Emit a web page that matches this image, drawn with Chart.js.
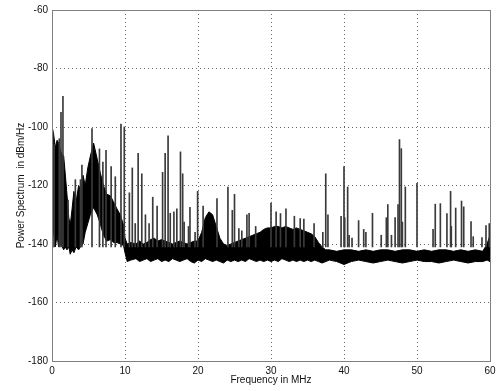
<!DOCTYPE html>
<html lang="en">
<head>
<meta charset="utf-8">
<style>
  html, body { margin: 0; padding: 0; background: #fff; }
  #wrap { width: 500px; height: 391px; }
</style>
</head>
<body>
<div id="wrap"><canvas id="myChart" width="500" height="391"></canvas></div>
<script src="https://cdn.jsdelivr.net/npm/chart.js"></script>
<script>
// spectrum envelope (MHz, dBm/Hz)
const envF = [
  0, 0.2, 0.45, 0.7, 0.9, 1.2, 1.6, 1.8, 2.05, 2.3,
  2.5, 2.75, 3.0, 3.3, 3.65, 4.0, 4.25, 4.55, 4.9, 5.25,
  5.7, 6.2, 6.6, 7.05, 7.5, 8.0, 8.4, 8.9, 9.35, 9.8,
  10.0, 10.3, 10.8, 11.5, 12, 12.5, 13, 13.5, 14, 14.5,
  15, 15.5, 16, 16.5, 17, 17.5, 18, 18.5, 19, 19.5,
  20, 20.5, 21, 21.5, 22, 22.5, 23, 23.5, 24, 24.5,
  25, 25.5, 26, 26.5, 27, 27.5, 28, 28.5, 29, 29.5,
  30, 30.5, 31, 31.5, 32, 32.5, 33, 33.5, 34, 34.5,
  35, 35.5, 36, 36.5, 37, 37.5, 38, 39, 40, 41,
  42, 43, 44, 45, 46, 47, 48, 49, 50, 51,
  52, 53, 54, 55, 56, 57, 58, 59, 59.6, 60
];
const envHi = [
  -101, -102, -107, -104.5, -105.5, -108.5, -110, -115.5, -123, -131,
  -133.5, -128, -122, -125.5, -120, -122, -116.5, -120, -114, -110,
  -105.5, -111, -115.5, -120, -123, -123.5, -125.5, -128, -130, -133.5,
  -138, -140, -139.5, -140, -139, -140, -139.5, -138.5, -138, -139,
  -138.5, -139, -139.5, -140, -139.5, -139, -139.5, -140, -139.5, -139,
  -139, -136, -131, -129, -130, -134, -138, -140, -140.5, -140,
  -139.5, -139, -138.5, -138, -137.5, -137, -136.5, -136, -135, -134.5,
  -134.5, -134, -134, -134.5, -134, -134.5, -135, -134.5, -135, -135.5,
  -136, -136.5, -137.5, -139.5, -141, -142, -142, -142.5, -142, -142,
  -142.5, -142, -142.5, -142, -142, -142.5, -142, -142, -142.5, -142,
  -142.5, -142, -142, -142.5, -142, -142.5, -142, -142.5, -140, -137
];
const envLo = [
  -139, -135, -141, -137, -141, -140, -142, -141, -142, -141,
  -143.5, -142, -143, -141, -142, -140.5, -140, -136, -133, -130,
  -127.5, -130, -133, -137, -139, -138.5, -139.5, -139.5, -140, -140.5,
  -143, -146, -145.5, -145, -146, -145.5, -145, -146, -145.5, -145,
  -146, -145.5, -146, -145, -145.5, -146, -145.5, -145, -146, -146.5,
  -145.5, -146, -145, -145.5, -146, -145.5, -146, -146.5, -145.5, -146,
  -145.5, -146, -145.5, -146, -145, -145.5, -146, -145.5, -146, -145.5,
  -146, -145.5, -146, -145, -145.5, -146, -145.5, -146, -145.5, -146,
  -145.5, -146, -145.5, -146, -146.5, -146, -145.5, -146, -147, -146,
  -145.5, -146, -146.5, -146, -145.5, -146, -146.5, -146, -145.5, -146,
  -146, -146.5, -146, -145.5, -146, -146.5, -146, -146, -145.5, -146
];

// narrow spectral lines
const spikeF = [
  0.1, 0.3, 1.0, 1.23, 1.5, 2.2, 3.2, 3.9, 4.1, 5.48,
  6.5, 6.97, 7.4, 8.1, 8.67, 9.45, 9.9, 10.6, 11.0, 11.4,
  11.8, 12.3, 12.8, 13.3, 13.8, 14.4, 15.15, 15.5, 15.9, 16.2,
  16.7, 17.1, 17.6, 17.9, 18.1, 18.7, 18.9, 19.6, 19.95, 20.7,
  22.6, 24.1, 24.7, 25.0, 25.6, 26.0, 26.7, 27.0, 27.9, 30.0,
  30.7, 31.3, 32.05, 33.2, 34.0, 34.5, 35.9, 37.1, 37.5, 37.8,
  39.6, 40.0, 40.1, 40.5, 40.7, 41.1, 42.0, 42.7, 43.0, 43.9,
  45.1, 45.8, 46.0, 46.5, 47.0, 47.4, 47.6, 47.85, 48.0, 48.4,
  50.0, 52.2, 52.5, 53.2, 54.1, 54.6, 54.7, 55.3, 56.1, 56.4,
  57.4, 57.7, 58.9, 59.45, 59.9
];
const spikePeak = [
  -101, -106, -104, -95, -89.5, -125, -118, -118, -113, -100.5,
  -107.5, -112, -108, -113.5, -117, -99, -100, -122.5, -114, -133,
  -109, -116, -130, -133, -124, -127, -115.5, -109, -103, -129.5,
  -129, -128, -108.5, -116, -132.5, -134, -127.5, -136, -122, -127,
  -124.5, -120.5, -128.5, -123, -134.7, -135.5, -130, -129.5, -134, -126,
  -129, -129.6, -128, -130.5, -131.3, -131.5, -133, -136, -116, -130,
  -130.5, -113.5, -131, -120.5, -137, -138, -132, -135, -136, -129.5,
  -137, -131, -126.5, -137, -131, -126.5, -104.3, -107.4, -132.5, -120.5,
  -119.3, -135, -126.4, -126.2, -129.6, -122, -134, -127.7, -125.3, -127.3,
  -132.3, -137.5, -137.8, -133.7, -133
];
const spikeFloor = -141;

const xTicks = [0, 10, 20, 30, 40, 50, 60];
const yTicks = [-180, -160, -140, -120, -100, -80, -60];

const fontFam = "'Liberation Sans', Arial, Helvetica, sans-serif";

// box round the plot, like matlab
const boxPlugin = {
    id: 'box',
    afterDatasetsDraw(chart) {
        const a = chart.chartArea;
        const ctx = chart.ctx;
        ctx.save();
        ctx.strokeStyle = '#808080';
        ctx.lineWidth = 1;
        ctx.strokeRect(Math.round(a.left) + 0.5, Math.round(a.top) + 0.5,
            Math.round(a.right - a.left), Math.round(a.bottom - a.top));
        ctx.restore();
    }
};

// closed outline: top edge left to right, then bottom edge back
const bandData = envF.map((f, i) => ({x: f, y: envHi[i]}))
    .concat(envF.map((f, i) => ({x: f, y: envLo[i]})).reverse());
const spikeData = spikeF.map((f, i) => ({x: f, y: [spikeFloor, spikePeak[i]]}));

const config = {
    type: 'line',
    data: {
        datasets: [
            {
                data: bandData,
                borderColor: '#000',
                backgroundColor: '#000',
                borderWidth: 1,
                pointRadius: 0,
                tension: 0,
                fill: 'shape',
                order: 2
            },
            {
                type: 'bar',
                data: spikeData,
                backgroundColor: '#3a3a3a',
                barThickness: 1,
                grouped: false,
                order: 1
            }
        ]
    },
    options: {
        responsive: false,
        animation: false,
        events: [],
        layout: { padding: { top: 9, right: 10, left: 0, bottom: 0 } },
        plugins: { legend: { display: false }, tooltip: { enabled: false } },
        scales: {
            x: {
                type: 'linear',
                min: 0,
                max: 60,
                offset: false,
                afterBuildTicks: (s) => { s.ticks = xTicks.map(v => ({value: v})); },
                afterFit: (s) => { s.height = 30; },
                ticks: { font: { family: fontFam, size: 10 }, color: '#111', padding: 4, maxRotation: 0 },
                grid: { color: '#666', lineWidth: 1, drawTicks: false, offset: false },
                border: { display: false, dash: [1, 3] },
                title: { display: true, text: 'Frequency in MHz', font: { family: fontFam, size: 10 }, color: '#111', padding: { top: 0, bottom: 5 } }
            },
            y: {
                min: -180,
                max: -60,
                afterBuildTicks: (s) => { s.ticks = yTicks.map(v => ({value: v})); },
                afterFit: (s) => { s.width = 52; },
                ticks: { font: { family: fontFam, size: 10 }, color: '#111', padding: 4 },
                grid: { color: '#666', lineWidth: 1, drawTicks: false },
                border: { display: false, dash: [1, 3] },
                title: { display: true, text: 'Power Spectrum  in dBm/Hz', font: { family: fontFam, size: 10 }, color: '#111', padding: { top: 15, bottom: 0 } }
            }
        }
    },
    plugins: [boxPlugin]
};

const myChart = new Chart(document.getElementById('myChart'), config);
</script>
</body>
</html>
